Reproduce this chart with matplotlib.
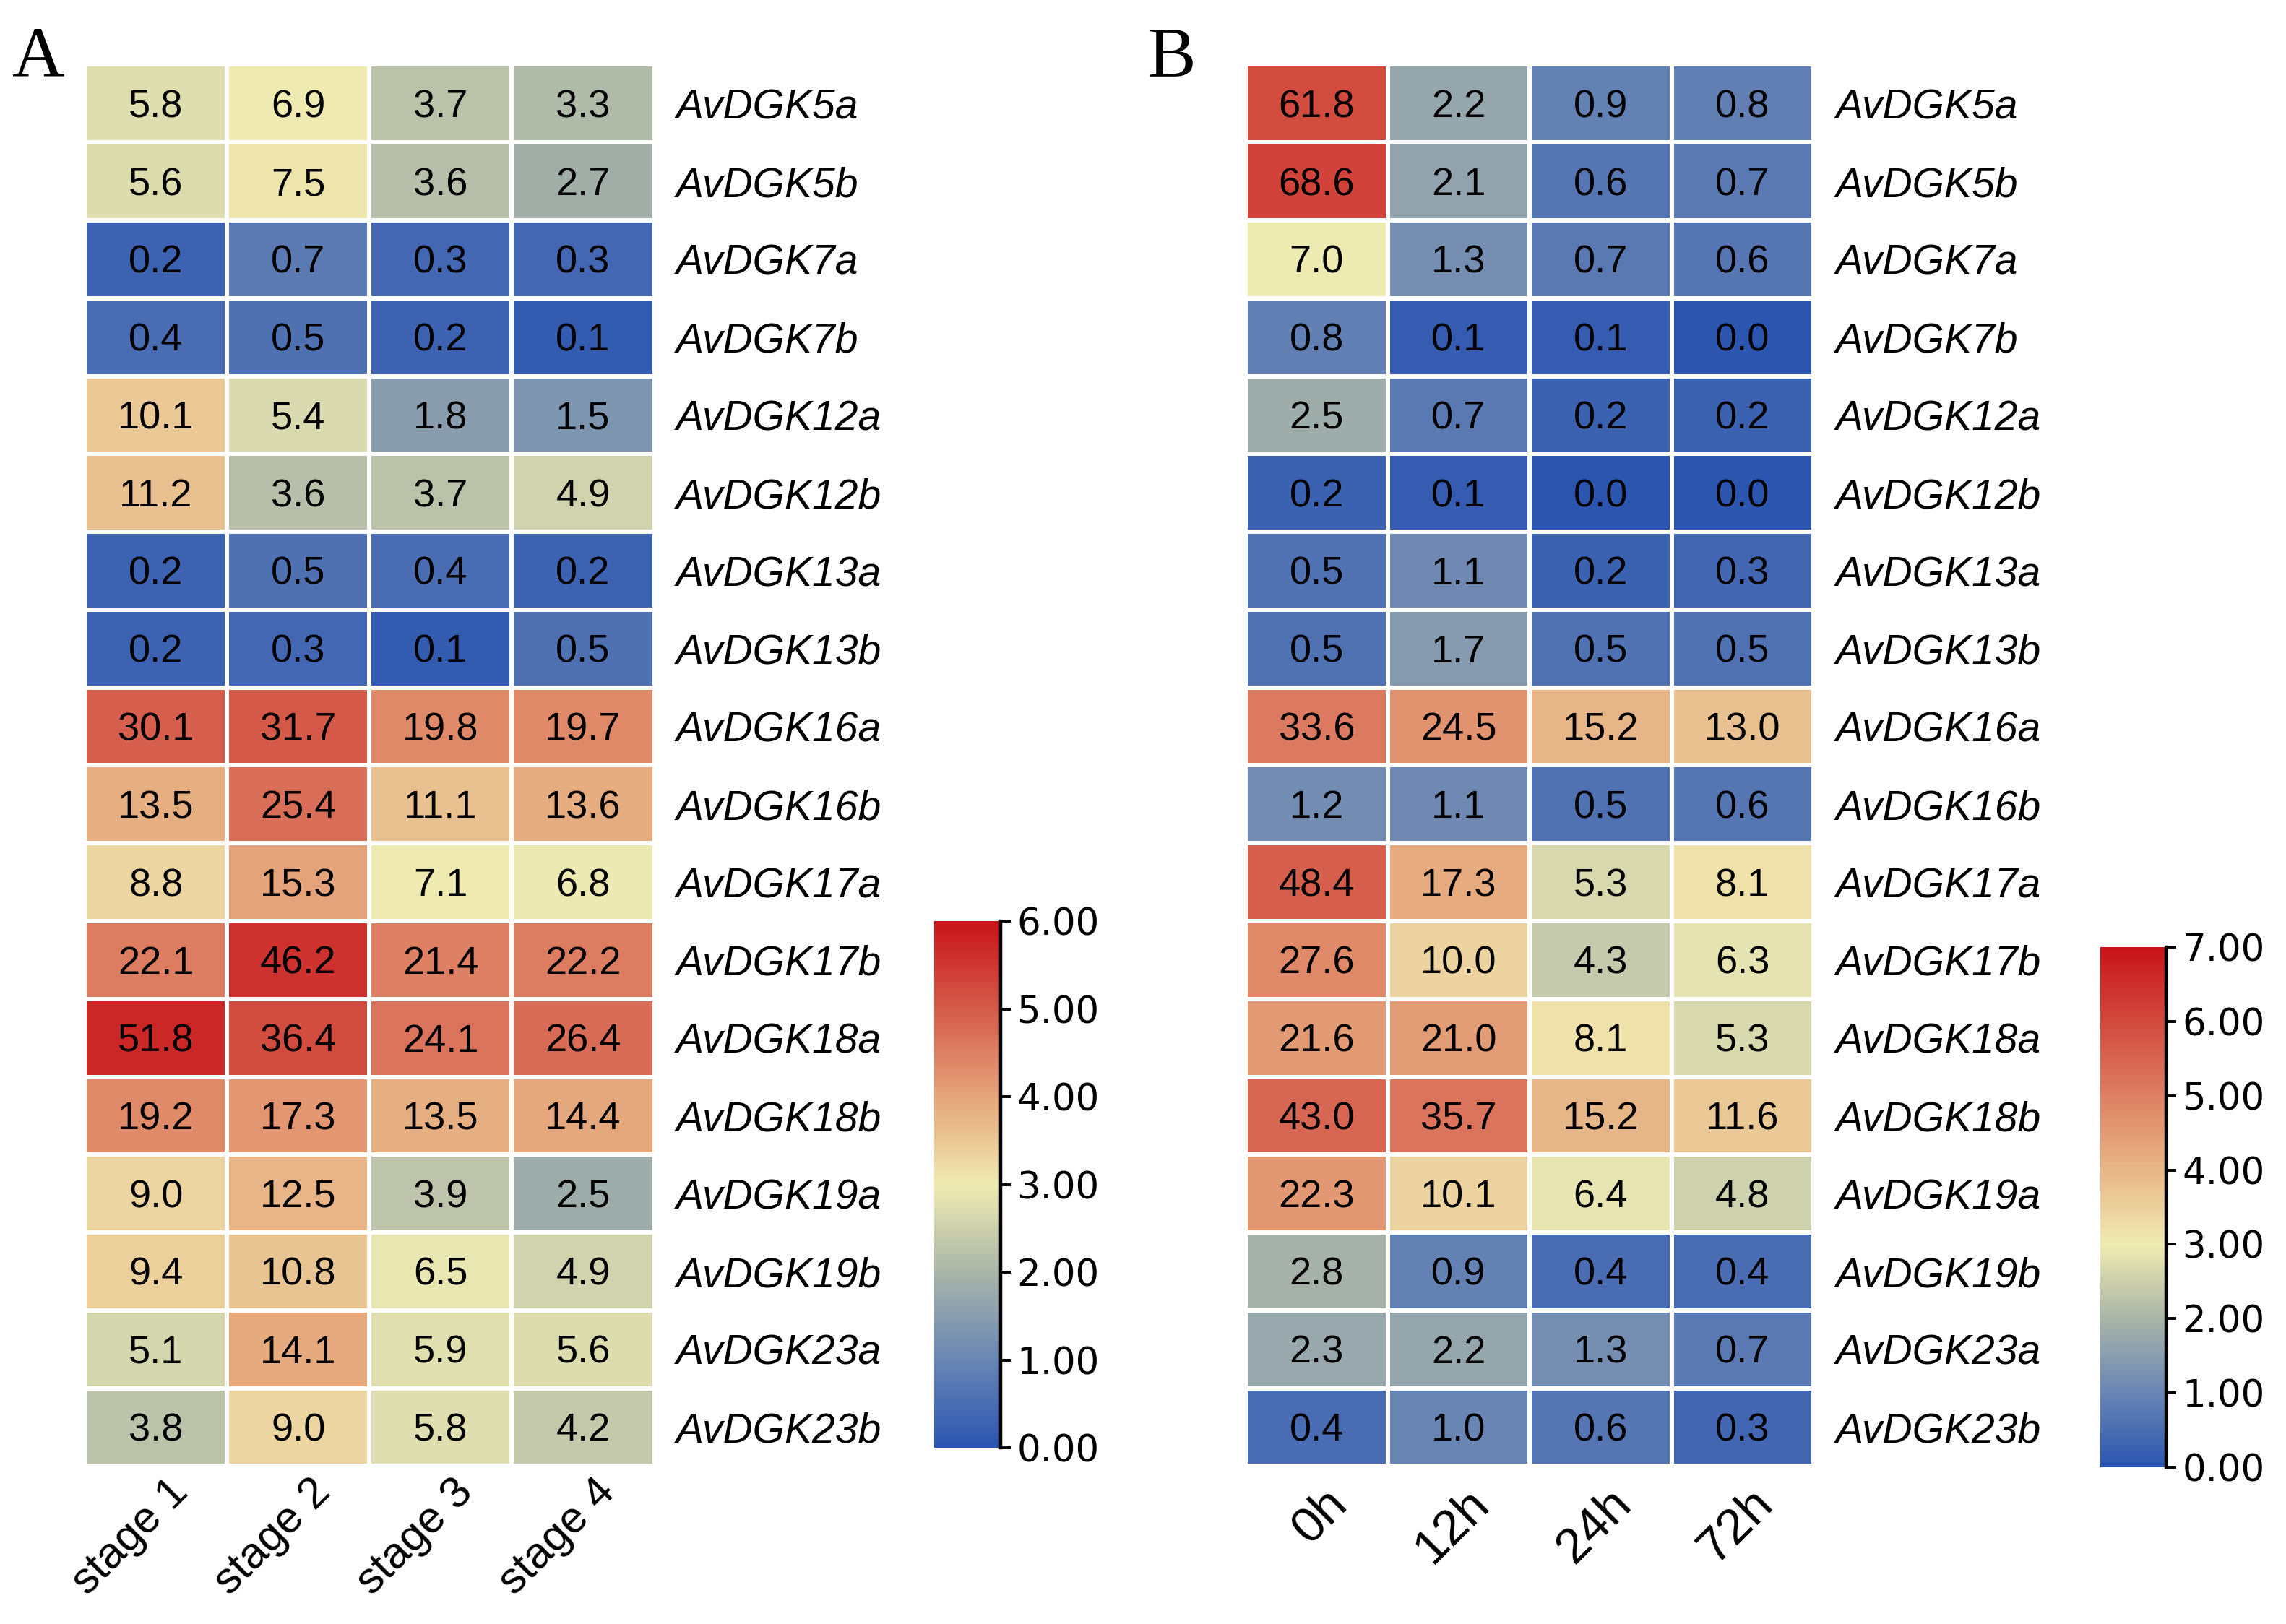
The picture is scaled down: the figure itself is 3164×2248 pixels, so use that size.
import numpy as np
import matplotlib
matplotlib.use("Agg")
import matplotlib.pyplot as plt
from matplotlib.colors import LinearSegmentedColormap, Normalize
from matplotlib.transforms import ScaledTranslation

genes = ["AvDGK5a", "AvDGK5b", "AvDGK7a", "AvDGK7b", "AvDGK12a", "AvDGK12b",
         "AvDGK13a", "AvDGK13b", "AvDGK16a", "AvDGK16b", "AvDGK17a", "AvDGK17b",
         "AvDGK18a", "AvDGK18b", "AvDGK19a", "AvDGK19b", "AvDGK23a", "AvDGK23b"]

stages = ["stage 1", "stage 2", "stage 3", "stage 4"]
times = ["0h", "12h", "24h", "72h"]

expr_stage = [
    [5.8, 6.9, 3.7, 3.3],
    [5.6, 7.5, 3.6, 2.7],
    [0.2, 0.7, 0.3, 0.3],
    [0.4, 0.5, 0.2, 0.1],
    [10.1, 5.4, 1.8, 1.5],
    [11.2, 3.6, 3.7, 4.9],
    [0.2, 0.5, 0.4, 0.2],
    [0.2, 0.3, 0.1, 0.5],
    [30.1, 31.7, 19.8, 19.7],
    [13.5, 25.4, 11.1, 13.6],
    [8.8, 15.3, 7.1, 6.8],
    [22.1, 46.2, 21.4, 22.2],
    [51.8, 36.4, 24.1, 26.4],
    [19.2, 17.3, 13.5, 14.4],
    [9.0, 12.5, 3.9, 2.5],
    [9.4, 10.8, 6.5, 4.9],
    [5.1, 14.1, 5.9, 5.6],
    [3.8, 9.0, 5.8, 4.2],
]

expr_time = [
    [61.8, 2.2, 0.9, 0.8],
    [68.6, 2.1, 0.6, 0.7],
    [7.0, 1.3, 0.7, 0.6],
    [0.8, 0.1, 0.1, 0.0],
    [2.5, 0.7, 0.2, 0.2],
    [0.2, 0.1, 0.0, 0.0],
    [0.5, 1.1, 0.2, 0.3],
    [0.5, 1.7, 0.5, 0.5],
    [33.6, 24.5, 15.2, 13.0],
    [1.2, 1.1, 0.5, 0.6],
    [48.4, 17.3, 5.3, 8.1],
    [27.6, 10.0, 4.3, 6.3],
    [21.6, 21.0, 8.1, 5.3],
    [43.0, 35.7, 15.2, 11.6],
    [22.3, 10.1, 6.4, 4.8],
    [2.8, 0.9, 0.4, 0.4],
    [2.3, 2.2, 1.3, 0.7],
    [0.4, 1.0, 0.6, 0.3],
]

# colours: blue -> grey -> pale yellow at 3, then yellow -> orange -> red at vmax
low_cols = ["#2C55B0", "#6A86B4", "#AAB5A8", "#EFEBB2"]
high_cols = ["#EFEBB2", "#E6AC80", "#D86A55", "#C8141A"]
high_pos = [0.0, 0.3, 0.6, 1.0]


def make_cmap(vmax, mid=3.0):
    nodes = []
    for i, c in enumerate(low_cols):
        nodes.append((mid * i / 3.0 / vmax, c))
    for p, c in zip(high_pos[1:], high_cols[1:]):
        nodes.append(((mid + p * (vmax - mid)) / vmax, c))
    return LinearSegmentedColormap.from_list("heat", nodes)


W, H = 3164, 2248
DPI = 200
fig = plt.figure(figsize=(W / DPI, H / DPI), dpi=DPI)


def draw_panel(rect, cbrect, data, cols, vmax, letter, letter_x, col_size, col_dx, col_pad):
    vals = np.array(data)
    ax = fig.add_axes(rect)
    cmap = make_cmap(vmax)
    norm = Normalize(vmin=0, vmax=vmax)
    mesh = ax.pcolormesh(np.log2(vals + 1), cmap=cmap, norm=norm,
                         edgecolors="white", linewidth=1.6)
    ax.set_xlim(0, vals.shape[1])
    ax.set_ylim(vals.shape[0], 0)
    for i in range(vals.shape[0]):
        for j in range(vals.shape[1]):
            ax.text(j + 0.5, i + 0.5 + 0.175, "%.1f" % vals[i, j], ha="center",
                    va="baseline", fontsize=19.5, family="Liberation Sans",
                    color="black")
    for s in ax.spines.values():
        s.set_visible(False)
    ax.tick_params(length=0, pad=11)
    ax.tick_params(axis="x", pad=col_pad)
    ax.yaxis.tick_right()
    ax.set_yticks(np.arange(len(genes)) + 0.5)
    ax.set_yticklabels(genes, fontsize=20.5, style="italic", family="Liberation Sans")
    ax.set_xticks(np.arange(len(cols)) + 0.5)
    ax.set_xticklabels(cols, fontsize=col_size, family="Liberation Sans",
                       rotation=45, ha="right", va="center", rotation_mode="anchor")
    # nudge the rotated labels to the right (after tick_params, which resets transforms)
    offset = ScaledTranslation(col_dx / 72, 0, fig.dpi_scale_trans)
    for lab in ax.get_xticklabels():
        lab.set_transform(lab.get_transform() + offset)

    cax = fig.add_axes(cbrect)
    cb = fig.colorbar(mesh, cax=cax, ticks=np.arange(0, vmax + 1))
    cb.outline.set_visible(False)
    cax.plot([1, 1], [0, 1], transform=cax.transAxes, color="black", lw=1.6,
             clip_on=False)
    cax.tick_params(length=5, width=1.4, labelsize=18.5, pad=3)
    cax.set_yticklabels(["%.2f" % t for t in np.arange(0, vmax + 1)],
                        family="DejaVu Sans")

    fig.text(letter_x, 0.9530, letter, fontsize=36, family="Liberation Serif",
             ha="left", va="baseline")


draw_panel([0.0371, 0.0972, 0.2491, 0.8630], [0.4087, 0.1085, 0.0291, 0.3243],
           expr_stage, stages, 6, "A", 0.0055, 22, 13, 10)
draw_panel([0.5449, 0.0972, 0.2484, 0.8630], [0.9188, 0.0965, 0.0288, 0.3203],
           expr_time, times, 7, "B", 0.5020, 25, 11.5, 15)

fig.savefig("out.png", dpi=DPI, facecolor="white")
